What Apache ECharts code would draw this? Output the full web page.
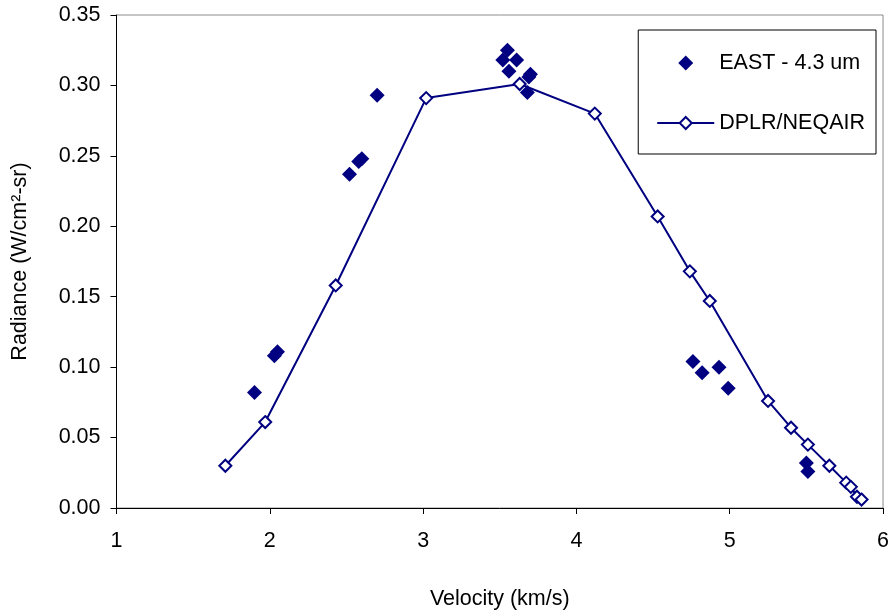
<!DOCTYPE html>
<html>
<head>
<meta charset="utf-8">
<title>Radiance vs Velocity</title>
<script src="https://cdn.jsdelivr.net/npm/echarts@6/dist/echarts.min.js"></script>
<style>
  html, body { margin: 0; padding: 0; background: #fff; }
  #chart { width: 892px; height: 615px; }
</style>
</head>
<body>
<div id="chart"></div>
<script>
// EAST measurements at 4.3 um
const eastVelocity = [1.90, 2.03, 2.05, 2.52, 2.58, 2.60, 2.70, 3.55, 3.52, 3.61, 3.56, 3.70, 3.69, 3.68, 4.76, 4.82, 4.93, 4.99, 5.50, 5.51];
const eastRadiance = [0.082, 0.108, 0.111, 0.237, 0.246, 0.248, 0.293, 0.325, 0.318, 0.318, 0.310, 0.308, 0.306, 0.295, 0.104, 0.096, 0.100, 0.085, 0.032, 0.026];

// DPLR/NEQAIR computed radiance
const dplrVelocity = [1.71, 1.97, 2.43, 3.02, 3.63, 4.12, 4.53, 4.74, 4.87, 5.25, 5.40, 5.51, 5.65, 5.76, 5.79, 5.83, 5.86];
const dplrRadiance = [0.030, 0.061, 0.158, 0.291, 0.301, 0.280, 0.207, 0.168, 0.147, 0.076, 0.057, 0.045, 0.030, 0.018, 0.015, 0.008, 0.006];

const xTicks = { min: 1, max: 6, interval: 1 };
const yTicks = { min: 0, max: 0.35, interval: 0.05 };

const navy = '#000080';
const font = 'Liberation Sans, Arial, sans-serif';
// square-aspect diamond so the legend icon is not stretched to the item width
const diamondPath = 'path://M0,-1L1,0L0,1L-1,0Z';

const pairs = (xs, ys) => xs.map((x, i) => [x, ys[i]]);

const chart = echarts.init(document.getElementById('chart'), null, { renderer: 'canvas' });
chart.setOption({
  animation: false,
  backgroundColor: '#ffffff',
  textStyle: { fontFamily: font },
  grid: {
    left: 116.5, right: 4, top: 15, bottom: 103,
    show: true, borderColor: '#8c8c8c', borderWidth: 1, backgroundColor: '#ffffff'
  },
  legend: {
    orient: 'vertical',
    right: 16, top: 30,
    padding: [22, 11, 20, 18],
    itemWidth: 57, itemHeight: 15, itemGap: 38,
    symbolKeepAspect: true,
    borderColor: '#000', borderWidth: 1, backgroundColor: '#fff',
    textStyle: { fontFamily: font, fontSize: 21.5, color: '#000' },
    data: [
      { name: 'EAST - 4.3 um', icon: diamondPath },
      { name: 'DPLR/NEQAIR' }
    ]
  },
  xAxis: {
    type: 'value',
    min: xTicks.min, max: xTicks.max, interval: xTicks.interval,
    name: 'Velocity (km/s)',
    nameLocation: 'middle', nameGap: 80,
    nameTextStyle: { fontFamily: font, fontSize: 21.5, color: '#000' },
    axisLine: { show: true, onZero: false, lineStyle: { color: '#000', width: 1 } },
    axisTick: { show: true, length: 6, lineStyle: { color: '#000' } },
    axisLabel: { margin: 22, fontFamily: font, fontSize: 21.5, color: '#000' },
    splitLine: { show: false }
  },
  yAxis: {
    type: 'value',
    min: yTicks.min, max: yTicks.max, interval: yTicks.interval,
    name: 'Radiance (W/cm²-sr)',
    nameLocation: 'middle', nameGap: 85,
    nameTextStyle: { fontFamily: font, fontSize: 21.5, color: '#000' },
    axisLine: { show: true, lineStyle: { color: '#000', width: 1 } },
    axisTick: { show: true, length: 6, lineStyle: { color: '#000' } },
    axisLabel: { margin: 16, fontFamily: font, fontSize: 21.5, color: '#000',
      formatter: v => v.toFixed(2) },
    splitLine: { show: false }
  },
  series: [
    {
      name: 'DPLR/NEQAIR',
      type: 'line',
      data: pairs(dplrVelocity, dplrRadiance),
      symbol: 'diamond',
      symbolSize: 12,
      showAllSymbol: true,
      lineStyle: { color: navy, width: 2 },
      itemStyle: { color: '#ffffff', borderColor: navy, borderWidth: 2 },
      z: 2
    },
    {
      name: 'EAST - 4.3 um',
      type: 'scatter',
      data: pairs(eastVelocity, eastRadiance),
      symbol: 'diamond',
      symbolSize: 15,
      itemStyle: { color: navy, opacity: 1 },
      z: 3
    }
  ]
});
</script>
</body>
</html>
